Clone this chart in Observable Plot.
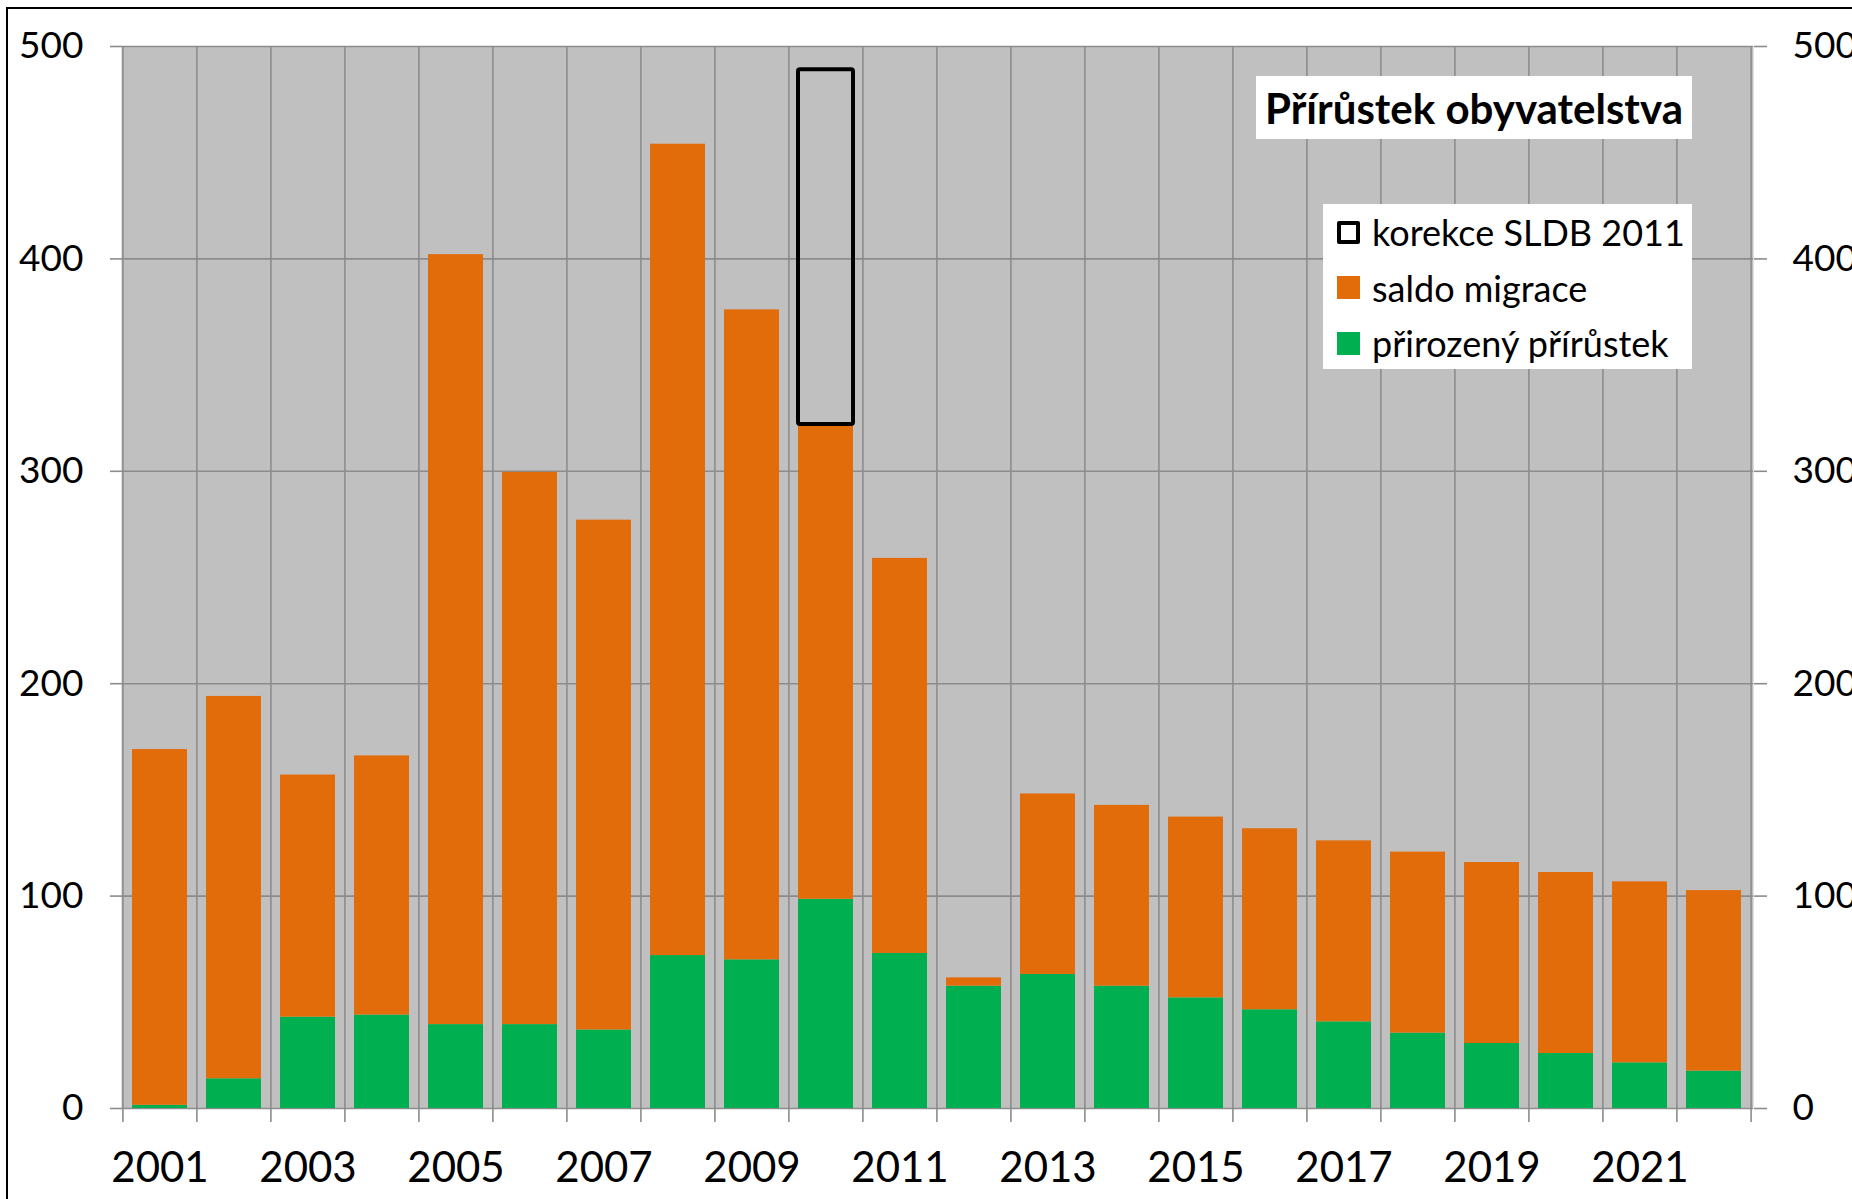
<!DOCTYPE html>
<html>
<head>
<meta charset="utf-8">
<script src="https://cdn.jsdelivr.net/npm/d3@7"></script>
<script src="https://cdn.jsdelivr.net/npm/@observablehq/plot@0.6"></script>
<style>
  html, body { margin: 0; padding: 0; background: #fff; }
  #wrap { position: relative; width: 1852px; height: 1199px; overflow: hidden; font-family: Lato, "Open Sans", sans-serif; }
  #border { position: absolute; left: 6px; top: 7px; width: 2000px; height: 2000px; border: 2px solid #000; box-sizing: border-box; pointer-events: none; }
  #chart { position: absolute; left: 0; top: 0; }
  #title { position: absolute; left: 1256px; top: 76px; width: 436px; height: 63px; background: #fff;
           display: flex; align-items: center; justify-content: center; font-weight: bold; font-size: 42px; color: #000; white-space: nowrap; }
  #legend { position: absolute; left: 1323px; top: 204px; width: 369px; height: 165px; background: #fff; }
  .item { position: absolute; left: 14px; display: flex; align-items: center; font-size: 36px; color: #000; height: 40px; white-space: nowrap; }
  .sw { width: 23px; height: 23px; margin-right: 12px; box-sizing: border-box; }
</style>
</head>
<body>
<div id="wrap">
  <div id="chart"></div>
  <div id="title">Přírůstek obyvatelstva</div>
  <div id="legend"></div>
  <div id="border"></div>
</div>
<script>
// ---- data ----
const years = [2001, 2002, 2003, 2004, 2005, 2006, 2007, 2008, 2009, 2010, 2011,
               2012, 2013, 2014, 2015, 2016, 2017, 2018, 2019, 2020, 2021, 2022];
const naturalIncrease = [1.5, 14, 43, 44, 39.5, 39.5, 37, 72, 70, 98.5, 73,
                         57.6, 63.1, 57.6, 52.1, 46.5, 40.8, 35.5, 30.6, 25.9, 21.5, 17.6];
const netMigration = [167.5, 180, 114, 122, 362.5, 260, 240, 382, 306, 223.5, 186,
                      3.9, 85, 85.1, 85.1, 85.2, 85.2, 85.2, 85.2, 85.2, 85.2, 85];
const censusCorrection = [0, 0, 0, 0, 0, 0, 0, 0, 0, 167, 0,
                          0, 0, 0, 0, 0, 0, 0, 0, 0, 0, 0];
const yTicks = [0, 100, 200, 300, 400, 500];
const xLabelYears = [2001, 2003, 2005, 2007, 2009, 2011, 2013, 2015, 2017, 2019, 2021];
const seriesNames = ["korekce SLDB 2011", "saldo migrace", "přirozený přírůstek"];
const colors = { natural: "#00B050", migration: "#E36C0A", grid: "#8C8C8C", bg: "#C0C0C0" };

const rows = years.map((year, i) => ({
  year,
  nat: naturalIncrease[i],
  mig: netMigration[i],
  corr: censusCorrection[i]
}));

const W = 1852, H = 1199, ml = 121, mr = 99, mt = 46, mb = 91;
const step = (W - ml - mr) / years.length;

const chart = Plot.plot({
  width: W, height: H,
  marginLeft: ml, marginRight: mr, marginTop: mt, marginBottom: mb,
  style: { fontFamily: "Lato, 'Open Sans', sans-serif", background: "transparent", overflow: "visible", color: "#000" },
  x: { type: "band", domain: years, paddingInner: 0.254, paddingOuter: 0.127, axis: null, label: null },
  y: { domain: [0, 500], axis: null, label: null },
  marks: [
    Plot.frame({ fill: colors.bg, stroke: null }),
    Plot.gridY(yTicks, { stroke: colors.grid, strokeOpacity: 1, strokeWidth: 1.6 }),
    Plot.ruleX(years, { x: d => d, dx: -step / 2, stroke: colors.grid, strokeWidth: 1.6 }),
    Plot.ruleX([years[years.length - 1]], { x: d => d, dx: step / 2, stroke: colors.grid, strokeWidth: 1.6 }),
    Plot.barY(rows, { x: "year", y1: 0, y2: "nat", fill: colors.natural }),
    Plot.barY(rows, { x: "year", y1: "nat", y2: d => d.nat + d.mig, fill: colors.migration }),
    Plot.barY(rows.filter(d => d.corr > 0), {
      x: "year", y1: d => d.nat + d.mig, y2: d => d.nat + d.mig + d.corr,
      fill: "none", stroke: "#000", strokeWidth: 4, rx: 2
    }),
    Plot.axisY(yTicks, { anchor: "left", label: null, tickSize: 11, tickPadding: 27, stroke: colors.grid, strokeWidth: 1.6, fill: "#000", fontSize: 37 }),
    Plot.axisY(yTicks, { anchor: "right", label: null, tickSize: 13, tickPadding: 26, stroke: colors.grid, strokeWidth: 1.6, fill: "#000", fontSize: 37 }),
    Plot.axisX(years, { anchor: "bottom", label: null, tickSize: 14, dx: -step / 2, tickFormat: () => "", stroke: colors.grid, strokeWidth: 1.6 }),
    Plot.axisX([years[years.length - 1]], { anchor: "bottom", label: null, tickSize: 14, dx: step / 2, tickFormat: () => "", stroke: colors.grid, strokeWidth: 1.6 }),
    Plot.axisX(xLabelYears, { anchor: "bottom", label: null, tickSize: 0, tickPadding: 44, fill: "#000", fontSize: 42, tickFormat: d => String(d) })
  ]
});
document.getElementById("chart").appendChild(chart);

// ---- legend ----
const legend = document.getElementById("legend");
const swatches = [
  { name: seriesNames[0], style: "border:4px solid #000;background:#fff;border-radius:2px;" },
  { name: seriesNames[1], style: "background:" + colors.migration + ";" },
  { name: seriesNames[2], style: "background:" + colors.natural + ";" }
];
swatches.forEach((s, i) => {
  const it = document.createElement("div");
  it.className = "item";
  it.style.top = (8 + i * 55.5) + "px";
  it.innerHTML = '<div class="sw" style="' + s.style + '"></div><span>' + s.name + '</span>';
  legend.appendChild(it);
});
</script>
</body>
</html>
